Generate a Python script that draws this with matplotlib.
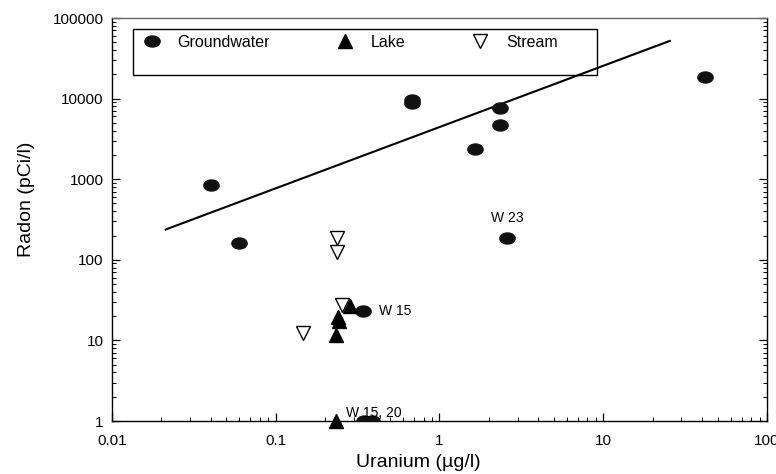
import numpy as np
import matplotlib
matplotlib.use("Agg")
from matplotlib import pyplot as plt
from matplotlib.path import Path
from matplotlib.transforms import Affine2D
from matplotlib.lines import Line2D
from matplotlib.patches import Rectangle

plt.rcParams['font.family'] = ['Liberation Sans', 'DejaVu Sans']

# Groundwater wells: uranium (ug/l) vs radon (pCi/l)
gw_uranium = [0.040, 0.060, 0.68, 0.68, 1.65, 2.35, 2.35, 2.6, 42, 0.34, 0.345, 0.385]
gw_radon = [850, 160, 9700, 8900, 2400, 7700, 4750, 187, 18300, 23.5, 1.0, 1.0]

# Lakes
lake_uranium = [0.233, 0.235, 0.24, 0.245, 0.284]
lake_radon = [1.0, 11.7, 19.5, 17.2, 27]

# Streams
stream_uranium = [0.236, 0.236, 0.254, 0.147]
stream_radon = [185, 126, 27.5, 12.5]

# regression line (end points of the fitted line)
fit_uranium = [0.0213, 25.5]
fit_radon = [238, 52000]

# point labels
labels = ["W 23", "W 15", "W 15, 20"]
label_xy = [(2.6, 330), (0.43, 23.5), (0.27, 1.27)]

# flattened ellipse marker for groundwater
ellipse = Path.unit_circle().transformed(Affine2D().scale(1.0, 0.72))

fig = plt.figure(figsize=(7.76, 4.74), dpi=100)
ax = fig.add_axes([0.1443, 0.1118, 0.8441, 0.8502])

ax.plot(fit_uranium, fit_radon, color='black', lw=1.5, zorder=2)
ax.plot(gw_uranium, gw_radon, ls='none', marker=ellipse, ms=11,
        mfc='#111111', mec='#111111', zorder=3)
ax.plot(lake_uranium, lake_radon, ls='none', marker='^', ms=10,
        mfc='black', mec='black', zorder=4, clip_on=False)
ax.plot(stream_uranium, stream_radon, ls='none', marker='v', ms=10,
        mfc='white', mec='black', mew=1.0, zorder=4)

for txt, (x, y) in zip(labels, label_xy):
    ha = 'center' if txt == "W 23" else 'left'
    ax.text(x, y, txt, fontsize=10, ha=ha, va='center')

ax.set_xscale('log')
ax.set_yscale('log')
ax.set_xlim(0.01, 100)
ax.set_ylim(1, 100000)
ax.set_xticks([0.01, 0.1, 1, 10, 100])
ax.set_xticklabels(["0.01", "0.1", "1", "10", "100"])
ax.set_yticks([1, 10, 100, 1000, 10000, 100000])
ax.set_yticklabels(["1", "10", "100", "1000", "10000", "100000"])
ax.tick_params(which='both', direction='in', right=True, top=False, labelsize=11)
ax.tick_params(axis='x', which='major', pad=9)
ax.tick_params(axis='y', which='major', pad=6)
ax.tick_params(which='major', length=6, width=0.9)
ax.tick_params(which='minor', length=3, width=0.7)
for s in ax.spines.values():
    s.set_linewidth(1.0)
ax.spines['top'].set_color('#666666')

ax.set_xlabel("Uranium (\u00b5g/l)", fontsize=14)
ax.set_ylabel("Radon (pCi/l)", fontsize=14)
ax.xaxis.set_label_coords(0.467, -0.102)
ax.xaxis.label.set_va('center')
ax.yaxis.set_label_coords(-0.131, 0.551)
ax.yaxis.label.set_va('center')

# legend box (drawn separately so it can keep its empty lower half)
ax.add_patch(Rectangle((0.032, 0.859), 0.708, 0.114, transform=ax.transAxes,
                       fill=False, edgecolor='black', lw=1.0, zorder=5))
handles = [
    Line2D([], [], ls='none', marker=ellipse, ms=11, mfc='#111111', mec='#111111'),
    Line2D([], [], ls='none', marker='^', ms=10, mfc='black', mec='black'),
    Line2D([], [], ls='none', marker='v', ms=10, mfc='white', mec='black'),
]
names = ["Groundwater", "Lake", "Stream"]
leg = ax.legend(handles, names, ncol=3, loc='upper left',
                bbox_to_anchor=(0.0489, 0.958), fontsize=11.5,
                frameon=False, borderpad=0, handlelength=1.0,
                handletextpad=1.1, columnspacing=4.2, borderaxespad=0)

fig.savefig("out.png", dpi=100)
